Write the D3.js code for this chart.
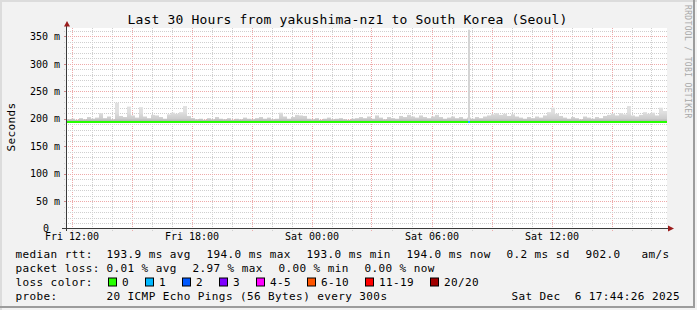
<!DOCTYPE html>
<html>
<head>
<meta charset="utf-8">
<script src="https://cdn.jsdelivr.net/npm/d3@7"></script>
<style>
html, body { margin: 0; padding: 0; background: #f2f2f2; }
svg { display: block; font-family: "DejaVu Sans Mono", monospace; }
text { white-space: pre; }
</style>
</head>
<body>
<div id="chart"></div>
<script>
var titleText = "Last 30 Hours from yakushima-nz1 to South Korea (Seoul)";
var yLabel = "Seconds";
var watermark = "RRDTOOL / TOBI OETIKER";
var timeStart = "2025-12-05T11:46:30Z",
timeEnd = "2025-12-06T17:46:30Z";

// max ping per 12 minute step (ms)
var smokeStepMin = 12;
var smokeMax = [199,200,198,201,199,203,200,202,210,201,204,199,229,205,203,222,206,202,221,204,
201,207,206,203,200,208,211,209,212,223,205,201,199,200,198,201,199,203,200,199,
201,198,200,199,202,200,199,201,203,200,202,199,200,211,204,200,203,207,206,205,
200,199,201,198,200,202,199,200,201,199,198,200,201,203,201,204,200,206,202,199,
203,201,200,205,203,207,204,202,206,203,201,204,207,203,200,202,204,201,203,200,
202,200,203,201,204,206,208,210,207,209,205,208,204,202,200,203,201,204,202,206,
212,220,209,205,202,200,203,201,199,204,202,200,203,201,205,207,209,206,210,208,
223,206,204,207,212,209,211,206,220,214];
var smokeMin = 193.0;

// median rtt every 2 hours
var medianStepMin = 120;
var medianRtt = [193.9,194.0,193.9,193.8,193.9,194.0,193.9,193.9,193.9,194.0,193.9,193.8,193.9,194.0,194.0];

var spikes = [{t: "2025-12-06T07:49:00Z", v: 362}];
var lossEvents = [{t: "2025-12-06T07:49:00Z", loss: 1}];

var yTicks = [0, 50, 100, 150, 200, 250, 300, 350];

var rttStats = [["193.9", "avg"], ["194.0", "max"], ["193.0", "min"], ["194.0", "now"]];
var rttSd = "0.2", rttAms = "902.0";
var lossStats = [["0.01", "avg"], ["2.97", "max"], ["0.00", "min"], ["0.00", "now"]];
var lossLabels = ["0", "1", "2", "3", "4-5", "6-10", "11-19", "20/20"];
var lossColors = ["#26ff00", "#00b8ff", "#0059ff", "#7e00ff", "#ff00ff", "#ff5500", "#ff0000", "#a10000"];
var probeText = "20 ICMP Echo Pings (56 Bytes) every 300s";
var stampText = "Sat Dec  6 17:44:26 2025";

var W = 697, H = 310,
plot = {left: 67, right: 667, top: 28, bottom: 228};

var svg = d3.select("#chart").append("svg")
.attr("width", W)
.attr("height", H);

// background + shaded frame
svg.append("rect").attr("width", W).attr("height", H).attr("fill", "#f2f2f2");
svg.append("rect").attr("x", 0).attr("y", 0).attr("width", W).attr("height", 2).attr("fill", "#dcdcdc");
svg.append("rect").attr("x", 0).attr("y", 0).attr("width", 2).attr("height", H).attr("fill", "#dcdcdc");
svg.append("rect").attr("x", 0).attr("y", 306).attr("width", 695).attr("height", 2).attr("fill", "#9c9c9c");
svg.append("rect").attr("x", 693).attr("y", 0).attr("width", 2).attr("height", 308).attr("fill", "#9c9c9c");

var t0 = new Date(timeStart), t1 = new Date(timeEnd);

var x = d3.scaleUtc()
.domain([t0, t1])
.range([plot.left, plot.right]);

var y = d3.scaleLinear()
.domain([0, 364.3])
.range([plot.bottom + 0.5, plot.top + 0.5]);

var crisp = v => Math.round(v) + 0.5;

// canvas
svg.append("rect")
.attr("x", plot.left).attr("y", plot.top)
.attr("width", plot.right - plot.left).attr("height", plot.bottom - plot.top)
.attr("fill", "#ffffff");

// grid
var grid = svg.append("g").attr("class", "grid");
var hours = d3.utcHour.range(t0, t1);
grid.selectAll("line.v")
.data(hours)
.enter().append("line")
.attr("x1", d => crisp(x(d))).attr("x2", d => crisp(x(d)))
.attr("y1", plot.top).attr("y2", plot.bottom + 3)
.attr("stroke", d => d.getUTCHours() % 3 === 0 ? "#eeaaaa" : "#cfcfcf")
.attr("stroke-dasharray", "1,1");

grid.selectAll("line.h")
.data(d3.range(10, 370, 10))
.enter().append("line")
.attr("x1", plot.left - 3).attr("x2", plot.right)
.attr("y1", d => crisp(y(d))).attr("y2", d => crisp(y(d)))
.attr("stroke", d => d % 50 === 0 ? "#eeaaaa" : "#cfcfcf")
.attr("stroke-dasharray", "1,1");

// smoke
var defs = svg.append("defs");
var grad = defs.append("linearGradient")
.attr("id", "smoke")
.attr("gradientUnits", "userSpaceOnUse")
.attr("x1", 0).attr("x2", 0)
.attr("y1", y(194)).attr("y2", y(212));
grad.append("stop").attr("offset", 0).attr("stop-color", "#ababab");
grad.append("stop").attr("offset", 0.35).attr("stop-color", "#cdcdcd");
grad.append("stop").attr("offset", 1).attr("stop-color", "#e0e0e0");

var stepTime = i => d3.utcMinute.offset(t0, i * smokeStepMin);

svg.append("g").attr("class", "smoke")
.selectAll("rect")
.data(smokeMax)
.enter().append("rect")
.attr("x", (d, i) => x(stepTime(i)))
.attr("width", (d, i) => x(stepTime(i + 1)) - x(stepTime(i)))
.attr("y", d => y(d))
.attr("height", d => y(smokeMin) - y(d))
.attr("fill", "url(#smoke)");

svg.append("g").attr("class", "spikes")
.selectAll("rect")
.data(spikes)
.enter().append("rect")
.attr("x", d => Math.round(x(new Date(d.t))))
.attr("width", 2)
.attr("y", d => y(d.v))
.attr("height", d => y(smokeMin) - y(d.v))
.attr("fill", "#d4d4d4");

// median line
var medLine = d3.line()
.x((d, i) => x(d3.utcMinute.offset(t0, i * medianStepMin)))
.y(d => y(d))
.curve(d3.curveStepAfter);

var medData = medianRtt.concat([medianRtt[medianRtt.length - 1]]);
svg.append("path")
.attr("d", medLine(medData))
.attr("fill", "none")
.attr("stroke", lossColors[0])
.attr("stroke-width", 2);

var medAt = t => medianRtt[Math.floor((t - t0) / 60000 / medianStepMin)];

svg.append("g").attr("class", "loss")
.selectAll("line")
.data(lossEvents)
.enter().append("line")
.attr("x1", d => Math.round(x(new Date(d.t))))
.attr("x2", d => Math.round(x(new Date(d.t))) + 2)
.attr("y1", d => y(medAt(new Date(d.t))))
.attr("y2", d => y(medAt(new Date(d.t))))
.attr("stroke", d => lossColors[d.loss])
.attr("stroke-width", 2);

// axes
var axisCol = "#3a3a3a", arrowCol = "#9b1c1c";

var yAxis = g => g
.attr("transform", `translate(${plot.left},0)`)
.call(d3.axisLeft(y).tickValues(yTicks).tickSize(0).tickPadding(7)
	.tickFormat(d => d === 0 ? "0" : d + " m"))
.call(g => g.select(".domain").remove())
.call(g => g.selectAll("text").attr("font-family", "DejaVu Sans Mono").attr("font-size", 10).attr("fill", "#000"))
// zero carries no unit, so it sits left of the column
.call(g => g.selectAll(".tick text").filter(d => d === 0).attr("x", -18));

var xAxis = g => g
.attr("transform", `translate(0,${plot.bottom})`)
.call(d3.axisBottom(x).ticks(d3.utcHour.every(6)).tickSize(0).tickPadding(5)
	.tickFormat(d3.utcFormat("%a %H:%M")))
.call(g => g.select(".domain").remove())
.call(g => g.selectAll("text").attr("font-family", "DejaVu Sans Mono").attr("font-size", 10).attr("fill", "#000"));

svg.append("g").call(yAxis);
svg.append("g").call(xAxis);

// y tick marks
svg.append("g").selectAll("line")
.data(yTicks.filter(d => d > 0))
.enter().append("line")
.attr("x1", plot.left - 3).attr("x2", plot.left)
.attr("y1", d => crisp(y(d))).attr("y2", d => crisp(y(d)))
.attr("stroke", "#c88");

svg.append("line")
.attr("x1", 62).attr("x2", 668)
.attr("y1", plot.bottom + 0.5).attr("y2", plot.bottom + 0.5)
.attr("stroke", axisCol);
svg.append("line")
.attr("x1", plot.left - 0.5).attr("x2", plot.left - 0.5)
.attr("y1", plot.bottom + 3).attr("y2", 25)
.attr("stroke", axisCol);

svg.append("path")
.attr("d", "M64,26.5 L70,26.5 L67,21 Z")
.attr("fill", arrowCol);
svg.append("path")
.attr("d", "M668,225.5 L668,231.5 L674,228.5 Z")
.attr("fill", arrowCol);

// title, unit, watermark
svg.append("text")
.attr("x", 347.5).attr("y", 24)
.attr("text-anchor", "middle")
.attr("font-size", 13).attr("letter-spacing", 0.17)
.text(titleText);

svg.append("text")
.attr("transform", "translate(14.5,127) rotate(-90)")
.attr("text-anchor", "middle")
.attr("font-size", 11).attr("letter-spacing", 0.4)
.text(yLabel);

svg.append("text")
.attr("transform", "translate(685,5) rotate(90)")
.attr("font-size", 8).attr("letter-spacing", 0.35)
.attr("fill", "#a8a8a8")
.text(watermark);

// legend
var legend = svg.append("g")
.attr("font-size", 11).attr("letter-spacing", 0.4).attr("fill", "#000");

function legendText(xp, yp, s) {
	legend.append("text").attr("x", xp).attr("y", yp).text(s);
}

var rows = [258, 272, 286, 300];

legendText(15.5, rows[0], "median rtt:");
rttStats.forEach(function(s, i) {
	legendText(106.5 + i * 100, rows[0], s[0] + " ms " + s[1]);
});
legendText(506.5, rows[0], rttSd + " ms sd");
legendText(585.5, rows[0], rttAms);
legendText(641.5, rows[0], "am/s");

legendText(15.5, rows[1], "packet loss:");
lossStats.forEach(function(s, i) {
	legendText(106.5 + i * 86, rows[1], s[0] + " % " + s[1]);
});

legendText(15.5, rows[2], "loss color:");
var bx = 108.5;
lossLabels.forEach(function(lab, i) {
	legend.append("rect")
	.attr("x", bx).attr("y", rows[2] - 8)
	.attr("width", 8).attr("height", 8)
	.attr("fill", lossColors[i])
	.attr("stroke", "#000");
	legendText(bx + 13.5, rows[2], lab);
	bx += 16 + lab.length * 7 + 14;
});

legendText(15.5, rows[3], "probe:");
legendText(106.5, rows[3], probeText);
legend.append("text")
.attr("x", 680).attr("y", rows[3])
.attr("text-anchor", "end")
.text(stampText);
</script>
</body>
</html>
